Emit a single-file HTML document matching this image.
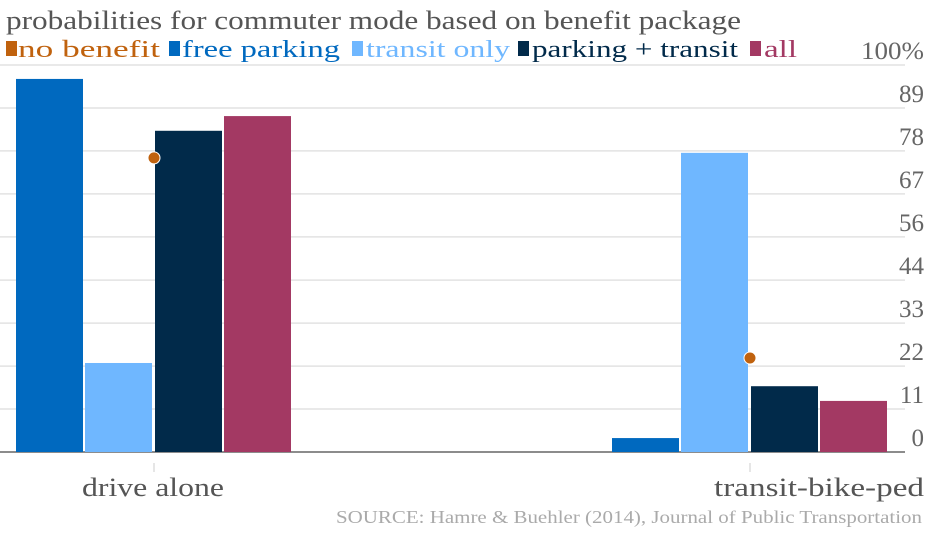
<!DOCTYPE html>
<html><head><meta charset="utf-8"><style>
body{margin:0;background:#fff;}
svg text{font-family:"Liberation Serif",serif;}
</style></head><body>
<svg id="c" width="940" height="530" xmlns="http://www.w3.org/2000/svg">
<text x="6" y="29" font-size="26" fill="#555" textLength="735" lengthAdjust="spacingAndGlyphs">probabilities for commuter mode based on benefit package</text>
<g font-size="24">
<rect x="6" y="41" width="11" height="15" fill="#c0620e"/><text x="18" y="57" fill="#c0620e" textLength="142" lengthAdjust="spacingAndGlyphs">no benefit</text>
<rect x="169" y="41" width="11" height="15" fill="#0069bf"/><text x="182" y="57" fill="#0069bf" textLength="158" lengthAdjust="spacingAndGlyphs">free parking</text>
<rect x="352" y="41" width="11" height="15" fill="#6fb7ff"/><text x="366" y="57" fill="#6fb7ff" textLength="144" lengthAdjust="spacingAndGlyphs">transit only</text>
<rect x="518" y="41" width="11" height="15" fill="#012a4a"/><text x="532" y="57" fill="#012a4a" textLength="206" lengthAdjust="spacingAndGlyphs">parking + transit</text>
<rect x="750" y="41" width="11" height="15" fill="#a33963"/><text x="764" y="57" fill="#a33963" textLength="33" lengthAdjust="spacingAndGlyphs">all</text>
</g>
<g id="grid"></g><g id="bars"></g><g id="dots"></g>
<text x="336" y="523" font-size="18" fill="#aaa" textLength="586" lengthAdjust="spacingAndGlyphs">SOURCE: Hamre &amp; Buehler (2014), Journal of Public Transportation</text>
</svg>
<script>
const categories=["drive alone","transit-bike-ped"];
const freeParking=[96.4,3.6];
const transitOnly=[23,77.3];
const parkingTransit=[83,17];
const allBenefits=[86.8,13.2];
const noBenefit=[76,24.3];
const ticks=[0,11.1,22.2,33.3,44.4,55.6,66.7,77.8,88.9,100];
const tickLabels=["0","11","22","33","44","56","67","78","89","100%"];
const NS="http://www.w3.org/2000/svg";
const y=v=>452-v*3.87;
const cx=i=>154+i*596;
function mk(tag,attrs,parent){const e=document.createElementNS(NS,tag);for(const k in attrs)e.setAttribute(k,attrs[k]);document.getElementById(parent).appendChild(e);return e;}
ticks.forEach((t,i)=>{
 if(i>0){const l=mk('line',{x1:0,x2:905,y1:y(t),y2:y(t),stroke:'#e2e2e2','stroke-width':1.5},'grid');
 
 }
 const a={x:924,y:y(t)-6,'font-size':25,fill:'#666','text-anchor':'end'};
 if(tickLabels[i].length>3){a.textLength=63;a.lengthAdjust='spacingAndGlyphs';}
 const tx=mk('text',a,'grid');tx.textContent=tickLabels[i];
 
 
});
const base=mk('line',{x1:0,x2:905,y1:452,y2:452,stroke:'#666','stroke-width':1.5},'grid');


const series=[[freeParking,'#0069bf',-138,'free-parking'],[transitOnly,'#6fb7ff',-69,'transit-only'],[parkingTransit,'#012a4a',1,'parking-transit'],[allBenefits,'#a33963',70,'all']];
const labLen=[142,210];
categories.forEach((c,i)=>{
 series.forEach(s=>{
  const r=mk('rect',{x:cx(i)+s[2],y:y(s[0][i]),width:67,height:452-y(s[0][i]),fill:s[1]},'bars');
  
  
 });
 const d=mk('circle',{cx:cx(i),cy:y(noBenefit[i]),r:6,fill:'#c0620e',stroke:'#fff','stroke-width':1},'dots');
 
 
 const tk=mk('line',{x1:cx(i),x2:cx(i),y1:463,y2:472,stroke:'#ddd','stroke-width':1.5},'grid');
 
 
 const t=mk('text',{x:i==0?cx(i)-72:924-labLen[i],y:496,'font-size':26,fill:'#555',textLength:labLen[i],lengthAdjust:'spacingAndGlyphs'},'grid');t.textContent=c;
 
 
});
</script>
</body></html>
